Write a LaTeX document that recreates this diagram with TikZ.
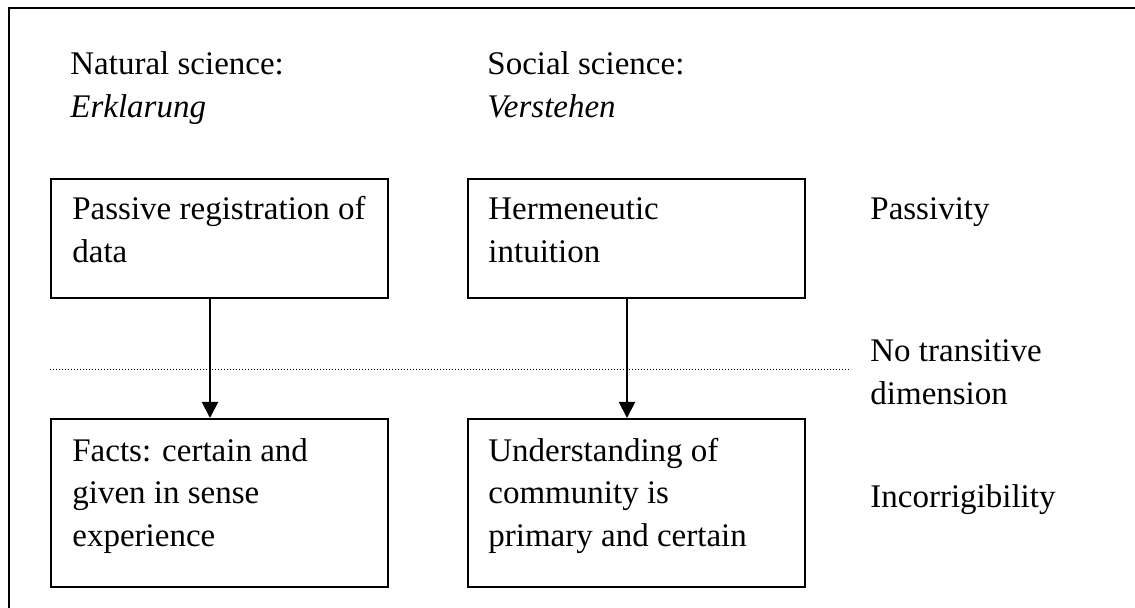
\documentclass[tikz,border=0pt]{standalone}
\usepackage{fontspec}
\setmainfont{Liberation Serif}
\usetikzlibrary{arrows.meta}
\begin{document}
\begin{tikzpicture}[x=0.5pt,y=-0.5pt,
  box/.style={draw, line width=0.8pt, rectangle, anchor=north west, inner sep=0pt, minimum width=168.5pt},
  txt/.style={anchor=base west, align=left, inner sep=0pt, font=\fontsize{16.5}{21.5}\selectfont},
  arr/.style={line width=1pt, -{Triangle[length=8pt,width=8pt]}}]
\useasboundingbox (0,0) rectangle (1135,608);
\draw[line width=1pt] (9,608) -- (9,8) -- (1135,8);
\node[txt] (nat) at (70,118) {Natural science:\\\textit{Erklarung}};
\node[txt] (soc) at (487,118) {Social science:\\\textit{Verstehen}};
\node[box, minimum height=59.5pt] (reg) at (50,178) {};
\node[box, minimum height=59.5pt] (herm) at (467,178) {};
\node[box, minimum height=84pt] (fact) at (50,418) {};
\node[box, minimum height=84pt] (und) at (467,418) {};
\node[txt] (regtxt) at (72,263) {Passive registration of\\data};
\node[txt] (hermtxt) at (488,263) {Hermeneutic\\intuition};
\node[txt] (facttxt) at (72,547) {Facts: certain and\\given in sense\\experience};
\node[txt] (undtxt) at (488,547) {Understanding of\\community is\\primary and certain};
\coordinate (dotl) at (50,370);
\coordinate (dotr) at (850,370);
\draw[line width=0.5pt, dash pattern=on 0.5pt off 1pt] (dotl) -- (dotr);
\draw[arr] (reg.south -| 210,0) -- (fact.north -| 210,0);
\draw[arr] (herm.south -| 627,0) -- (und.north -| 627,0);
\node[txt] (pass) at (870,220) {Passivity};
\node[txt] (notr) at (870,405) {No transitive\\dimension};
\node[txt] (inc) at (870,508) {Incorrigibility};
\end{tikzpicture}
\end{document}
